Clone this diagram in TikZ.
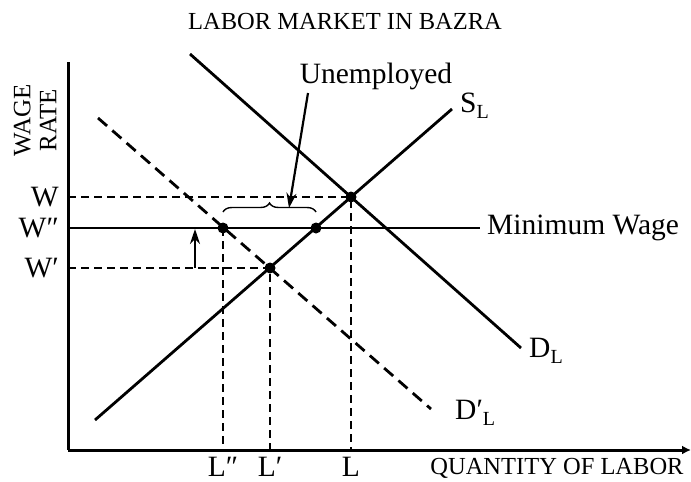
\documentclass[tikz,border=0pt]{standalone}
\usepackage{fontspec}
\setmainfont{Liberation Serif}
\usetikzlibrary{decorations.pathreplacing,arrows.meta}
\newcommand\lsub[1]{\raisebox{-0.42ex}{\fontsize{20}{20}\selectfont #1}}
\begin{document}
\begin{tikzpicture}[x=1pt,y=-1pt,
 axis/.style={line width=3pt},
 curve/.style={line width=2.8pt},
 guide/.style={line width=1.1pt,dash pattern=on 8pt off 5pt},
 dcurve/.style={line width=2.8pt,dash pattern=on 12pt off 7pt},
 dot/.style={circle,fill=black,inner sep=0pt,minimum size=11pt},
 lab/.style={inner sep=0pt,font=\fontsize{24.5}{26}\selectfont},
 mlab/.style={inner sep=0pt,font=\fontsize{29.5}{31}\selectfont},
 arr/.style={line width=2.2pt,-{Stealth[length=15pt,width=10pt]}}]
\useasboundingbox (0,0) rectangle (691,482);
% coordinates
\coordinate (O) at (68,450);
\coordinate (ytop) at (68,62);
\coordinate (xend) at (691,450);
\coordinate (S1) at (95,420);
\coordinate (S2) at (452,109);
\coordinate (D1) at (190,54);
\coordinate (D2) at (521,348);
\coordinate (P1) at (98,118);
\coordinate (P2) at (431,409);
\coordinate (mw0) at (68,228);
\coordinate (mw1) at (480,228);
\coordinate (wy) at (68,197);
\coordinate (wpy) at (68,268);
\coordinate (Lx) at (351,450);
\coordinate (Lpx) at (270,450);
\coordinate (Lppx) at (223,450);
\coordinate (br0) at (223,212);
\coordinate (br1) at (316,212);
\coordinate (ua0) at (308,93);
\coordinate (ua1) at (289,208);
\coordinate (up0) at (195,268);
\coordinate (up1) at (195,229);
% guides
\draw[guide] (wy) -- (351,197) -- (Lx);
\draw[guide] (wpy) -- (270,268) -- (Lpx);
\draw[guide] (223,228) -- (Lppx);
% axes
\draw[axis] (ytop) -- (O);
\draw[axis,-{Latex[length=9pt,width=9pt]}] (O) -- (xend);
% curves
\draw[curve] (S1) -- (S2);
\draw[curve] (D1) -- (D2);
\draw[dcurve] (P1) -- (P2);
\draw[curve] (mw0) -- (mw1);
% dots
\node[dot] (E) at (351,197) {};
\node[dot] (Ep) at (270,268) {};
\node[dot] (A) at (223,228) {};
\node[dot] (B) at (316,228) {};
% brace
\draw[line width=1.4pt,decorate,decoration={brace,amplitude=9pt}] (br0) -- (br1);
\draw[arr] (ua0) -- (ua1);
\draw[arr] (up0) -- (up1);
% labels
\node[lab] (title) at (345,22) {LABOR MARKET IN BAZRA};
\node[lab,rotate=90,align=center,font=\fontsize{25}{26}\selectfont] (ylab) at (35,120) {WAGE\\RATE};
\node[mlab] (unemp) at (376,76) {Unemployed};
\node[mlab,anchor=west] (SL) at (460,106) {S\lsub{L}};
\node[mlab,anchor=west] (DL) at (529,351) {D\lsub{L}};
\node[mlab,anchor=west] (DpL) at (455,413) {D′\lsub{L}};
\node[mlab,anchor=west] (mwl) at (487,228) {Minimum Wage};
\node[mlab,anchor=east] (W) at (59,197) {W};
\node[mlab,anchor=east] (Wpp) at (59,228) {W″};
\node[mlab,anchor=east] (Wp) at (59,268) {W′};
\node[mlab] (L) at (351,467) {L};
\node[mlab] (Lp) at (270,467) {L′};
\node[mlab] (Lpp) at (223,467) {L″};
\node[lab] (xlab) at (557,468) {QUANTITY OF LABOR};
\end{tikzpicture}
\end{document}
